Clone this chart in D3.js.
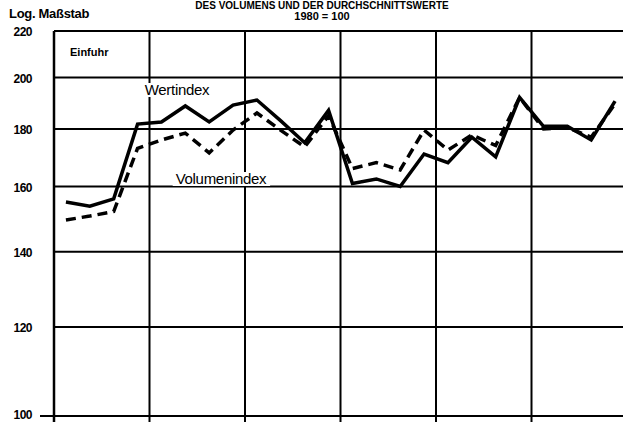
<!DOCTYPE html>
<html>
<head>
<meta charset="utf-8">
<script src="https://cdn.jsdelivr.net/npm/d3@7"></script>
<style>
  body { margin: 0; background: #fff; }
  svg { display: block; }
  text { font-family: "Liberation Sans", Arial, sans-serif; fill: #000; }
</style>
</head>
<body>
<div id="chart"></div>
<script>
/* ======================== data ======================== */

// 6 years x 4 quarters, the year labels are cut off in the scan
var quarters = ["I", "II", "III", "IV"];
var yearSlots = [1, 2, 3, 4, 5, 6];

var wertindex = [
  155, 153.7, 156, 181.8, 182.6, 188.7, 182.6, 189, 191, 183, 175, 187,
  161, 162.5, 160, 171, 168, 177, 170, 192, 181, 181, 176, 190.6
];

var volumenindex = [
  149.4, 150.6, 152, 173, 176, 178.5, 171.4, 179.6, 186, 179.5, 173.5, 185,
  166, 168, 165.5, 179.6, 172.4, 177.8, 174, 192, 180, 180.5, 177, 189.5
];

var yTicks = [100, 120, 140, 160, 180, 200, 220];

/* ============================================================================ */

var width = 623;
var height = 422;

var svg = d3.select("#chart").append("svg")
    .attr("width", width)
    .attr("height", height);

var nQ = yearSlots.length * quarters.length;

var x = d3.scaleLinear()
    .domain([0, nQ])
    .range([54, 627]);

var y = d3.scaleLog()
    .domain([100, 220])
    .range([416, 31]);

// header texts
svg.append("text")
    .attr("x", 322).attr("y", 9)
    .attr("text-anchor", "middle")
    .style("font-size", "10px").style("font-weight", "bold")
    .text("DES VOLUMENS UND DER DURCHSCHNITTSWERTE");

svg.append("text")
    .attr("x", 9).attr("y", 18)
    .style("font-size", "13px").style("font-weight", "bold")
    .style("letter-spacing", "-0.3px")
    .text("Log. Maßstab");

svg.append("text")
    .attr("x", 322).attr("y", 20)
    .attr("text-anchor", "middle")
    .style("font-size", "11px").style("font-weight", "bold")
    .text("1980 = 100");

// horizontal grid
svg.append("g").selectAll("line")
    .data(yTicks)
    .enter().append("line")
    .attr("x1", function (d) { return d == 100 ? 40 : x(0); })
    .attr("x2", width)
    .attr("y1", function (d) { return y(d); })
    .attr("y2", function (d) { return y(d); })
    .attr("stroke", "#000")
    .attr("stroke-width", 2);

// vertical grid, one line per year
svg.append("g").selectAll("line")
    .data(d3.range(0, nQ + 1, quarters.length))
    .enter().append("line")
    .attr("x1", function (d) { return x(d); })
    .attr("x2", function (d) { return x(d); })
    .attr("y1", y(220))
    .attr("y2", height)
    .attr("stroke", "#000")
    .attr("stroke-width", function (d) { return d == 0 ? 2.5 : 2; });

// y tick labels
svg.append("g").selectAll("text")
    .data(yTicks)
    .enter().append("text")
    .attr("x", 32)
    .attr("y", function (d) { return y(d) + (d == 100 ? 0 : 2); })
    .attr("text-anchor", "end")
    .attr("dominant-baseline", "middle")
    .style("font-size", "12px").style("font-weight", "bold")
    .style("letter-spacing", "-0.5px")
    .text(function (d) { return d; });

svg.append("text")
    .attr("x", 70).attr("y", 56)
    .style("font-size", "11px").style("font-weight", "bold")
    .text("Einfuhr");

/*
  series label with a white box behind it, so it cuts the grid
*/
function seriesLabel (txt, cx, cy, padX) {
    var g = svg.append("g");
    var t = g.append("text")
        .attr("x", cx).attr("y", cy)
        .attr("text-anchor", "middle")
        .style("font-size", "15px")
        .style("letter-spacing", "-0.3px")
        .text(txt);
    var bb = t.node().getBBox();
    g.insert("rect", "text")
        .attr("x", bb.x - padX)
        .attr("y", bb.y + 2)
        .attr("width", bb.width + padX * 2)
        .attr("height", bb.height - 3)
        .attr("fill", "#fff");
}

seriesLabel("Wertindex", 177, 95, 2);
seriesLabel("Volumenindex", 221, 184, 3);

// lines
var line = d3.line()
    .x(function (d, i) { return x(i + 0.5); })
    .y(function (d) { return y(d); });

svg.append("path")
    .datum(volumenindex)
    .attr("d", line)
    .attr("fill", "none")
    .attr("stroke", "#000")
    .attr("stroke-width", 3.5)
    .attr("stroke-dasharray", "10,6");

svg.append("path")
    .datum(wertindex)
    .attr("d", line)
    .attr("fill", "none")
    .attr("stroke", "#000")
    .attr("stroke-width", 3.5)
    .attr("stroke-linejoin", "miter");
</script>
</body>
</html>
